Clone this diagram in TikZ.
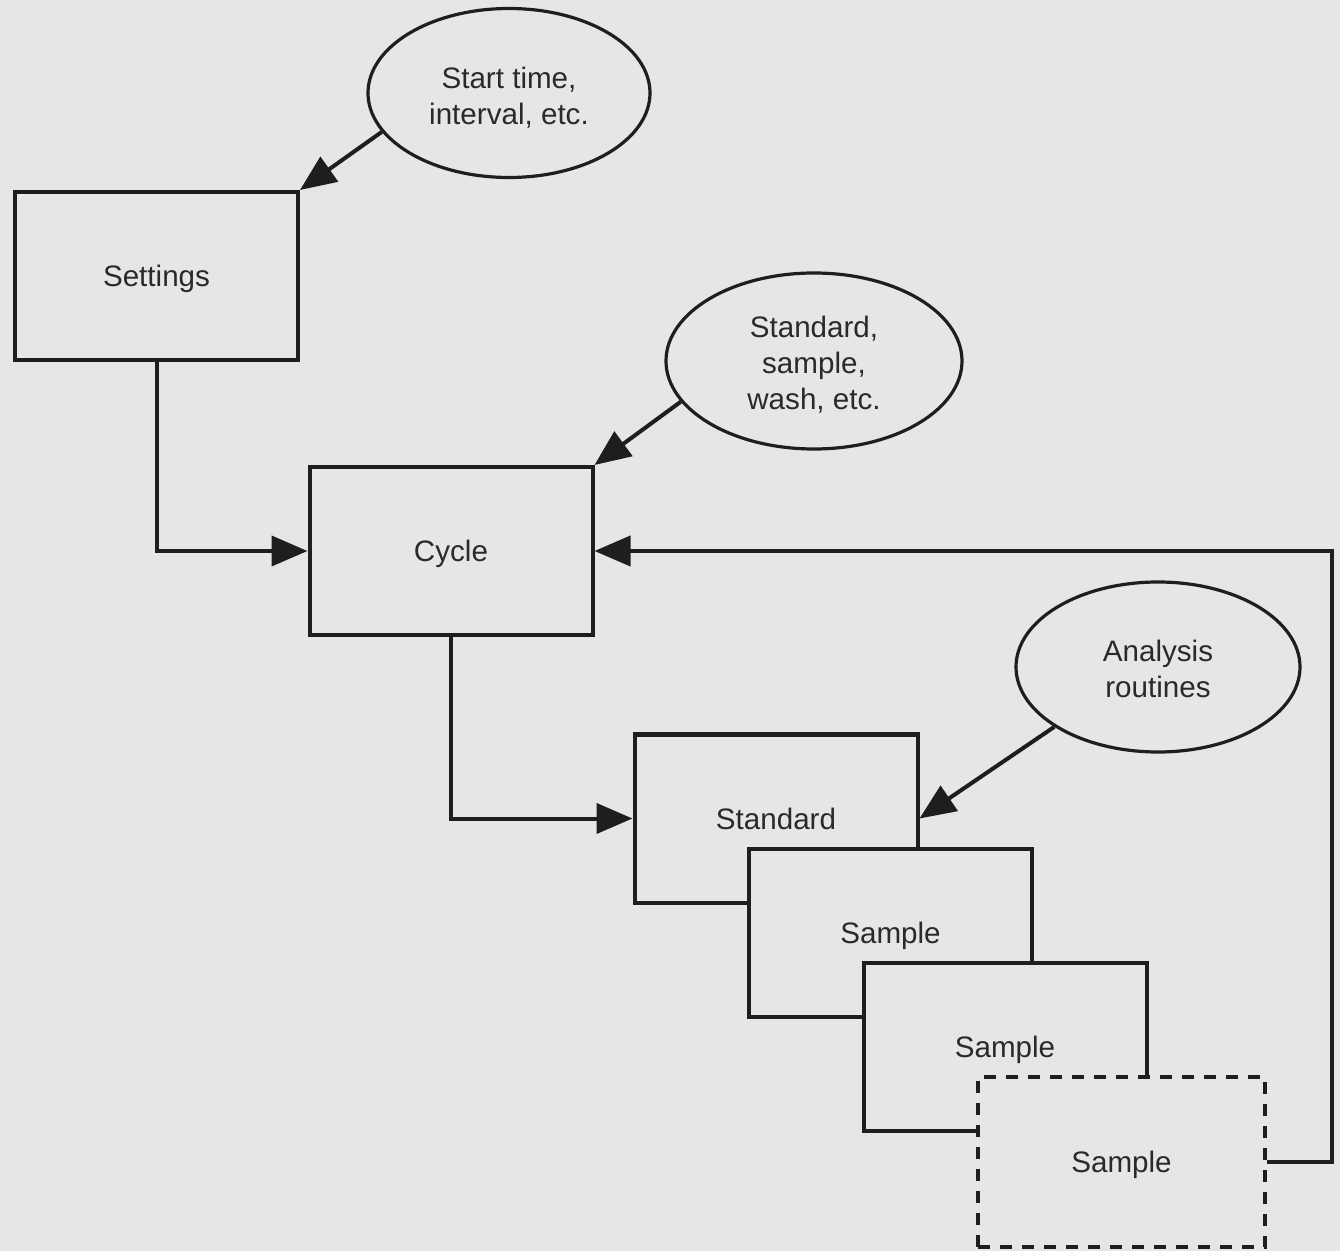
\documentclass[tikz,border=0pt]{standalone}
\usepackage{fontspec}
\setmainfont{Liberation Sans}
\usetikzlibrary{arrows.meta,shapes.geometric}
\definecolor{bg}{HTML}{E6E6E6}
\definecolor{ink}{HTML}{1E1E1E}
\definecolor{txt}{HTML}{2A2A2A}
\newcommand{\ovaltext}[2]{\parbox{6em}{\centering\vspace*{#1}#2}}
\begin{document}
\begin{tikzpicture}[x=0.5pt,y=-0.5pt,
  every node/.style={font=\fontsize{14.8pt}{18pt}\selectfont, text=txt},
  box/.style={draw=ink, line width=2pt, fill=bg, rectangle, inner sep=0pt, minimum width=141.5pt, minimum height=84pt, text height=10.6pt, text depth=0pt},
  oval/.style={draw=ink, line width=1.6pt, fill=bg, ellipse, inner sep=0pt, minimum width=141pt, minimum height=84.5pt, align=center},
  conn/.style={draw=ink, line width=2pt},
  arr/.style={conn, -{Triangle[length=18pt,width=15pt]}},
  dashbox/.style={box, dash pattern=on 6pt off 5pt}]
\fill[bg] (0,0) rectangle (1340,1251);
\useasboundingbox (0,0) rectangle (1340,1251);
% nodes
\node[box] (set) at (156.5,276) {Settings};
\node[oval] (e1) at (509,93) {\ovaltext{5pt}{Start time,\\interval, etc.}};
\node[box] (cyc) at (451,551) {Cycle};
\node[oval, minimum width=148pt, minimum height=88pt] (e2) at (814,361) {\ovaltext{4pt}{Standard,\\sample,\\wash, etc.}};
\node[oval, minimum width=142pt, minimum height=85pt] (e3) at (1158,667) {\ovaltext{2pt}{Analysis\\routines}};
\node[box] (std) at (776,818.5) {Standard};
\node[box] (s1) at (890.5,932.5) {Sample};
\node[box] (s2) at (1005,1047) {Sample};
\node[dashbox, minimum width=143.5pt, minimum height=85pt] (s3) at (1121.5,1162) {Sample};
\coordinate (fb) at (1332,551);
% connectors
\draw[arr] (e1.197) -- (set.north east);
\draw[arr] (set.south) |- (cyc.west);
\draw[arr] (e2.197) -- (cyc.north east);
\draw[arr] (cyc.south) |- (std.west);
\draw[arr] (e3.210) -- (std.east);
\draw[arr] (s3.east) -| (fb) -- (cyc.east);
\end{tikzpicture}
\end{document}
